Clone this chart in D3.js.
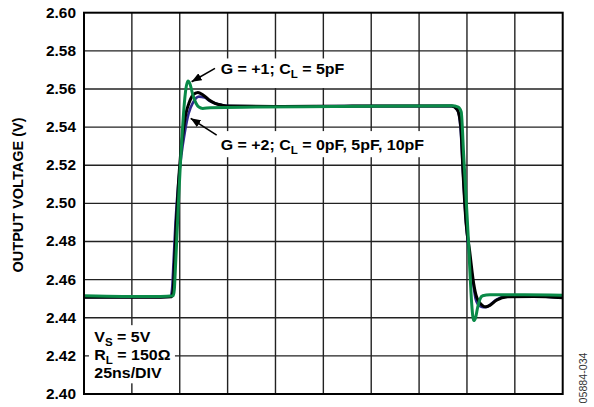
<!DOCTYPE html>
<html>
<head>
<meta charset="utf-8">
<script src="https://cdn.jsdelivr.net/npm/d3@7"></script>
<style>
  body { margin: 0; background: #fff; }
  svg text { font-family: "Liberation Sans", Arial, Helvetica, sans-serif; font-weight: bold; fill: #000; }
</style>
</head>
<body>
<div id="chart"></div>
<script>
// time axis: 25ns/div, 10 divisions
var timeTicks = [0, 25, 50, 75, 100, 125, 150, 175, 200, 225, 250];
var voltTicks = [2.40, 2.42, 2.44, 2.46, 2.48, 2.50, 2.52, 2.54, 2.56, 2.58, 2.60];

// G = +1; CL = 5pF (green)
var g1Time = [0, 20, 40, 46.6, 47.2, 47.7, 48.4, 49.3, 50.3, 51.2, 52.2, 53.2, 54.3, 55.4, 56.8, 58.5, 60, 62, 66, 90, 130, 170, 192, 195.5, 197, 198.3, 199.7, 200.8, 201.6, 202.5, 203.5, 204.5, 205.6, 206.8, 208.2, 212, 230, 250];
var g1Volt = [2.4515, 2.4512, 2.4512, 2.4515, 2.455, 2.465, 2.48, 2.50, 2.52, 2.535, 2.550, 2.560, 2.5642, 2.5625, 2.557, 2.5525, 2.5505, 2.5498, 2.5502, 2.5505, 2.5508, 2.551, 2.5512, 2.5505, 2.548, 2.525, 2.50, 2.48, 2.463, 2.447, 2.4385, 2.4400, 2.4455, 2.4498, 2.4515, 2.452, 2.452, 2.4518];

// G = +2; CL = 10pF (black)
var g2aTime = [0, 20, 40, 45.8, 46.6, 47.3, 48.2, 49.3, 50.4, 51.7, 53.2, 55, 57, 59.5, 62, 65, 68.4, 72, 76, 100, 140, 180, 192, 195, 196.8, 198, 199.5, 201.4, 203.5, 205, 206.2, 208, 209.8, 212, 215.4, 221.3, 235, 250];
var g2aVolt = [2.4508, 2.4508, 2.4508, 2.451, 2.455, 2.47, 2.49, 2.51, 2.525, 2.537, 2.547, 2.553, 2.557, 2.5582, 2.557, 2.5545, 2.5525, 2.5515, 2.551, 2.5508, 2.551, 2.551, 2.551, 2.549, 2.540, 2.515, 2.49, 2.475, 2.458, 2.451, 2.4485, 2.4465, 2.4457, 2.4465, 2.4492, 2.451, 2.4512, 2.4505];

// G = +2; CL = 0pF (blue)
var g2bTime = [0, 20, 40, 45.2, 46.0, 46.8, 47.8, 49.2, 50.8, 52.6, 54.6, 57, 60, 63, 66, 70, 76, 100, 140, 180, 192, 195, 196.6, 198, 199.5, 201, 203, 204.5, 205.6, 207.5, 209.5, 212, 215.4, 221, 235, 250];
var g2bVolt = [2.4508, 2.4508, 2.4508, 2.451, 2.455, 2.47, 2.49, 2.51, 2.525, 2.537, 2.547, 2.553, 2.556, 2.5555, 2.5535, 2.552, 2.551, 2.5508, 2.551, 2.551, 2.551, 2.549, 2.540, 2.515, 2.49, 2.475, 2.46, 2.45, 2.4472, 2.4458, 2.4455, 2.4467, 2.4495, 2.4512, 2.4512, 2.4505];

var width = 594, height = 407;
var margin = {top: 12.7, right: 31.3, bottom: 13, left: 84};
var stretch = 1.1;

var svg = d3.select("#chart").append("svg")
  .attr("width", width)
  .attr("height", height);

var x = d3.scaleLinear().domain([0, 250]).range([margin.left, width - margin.right]);
var y = d3.scaleLinear().domain([2.40, 2.60]).range([height - margin.bottom, margin.top]);

// grid
svg.append("g").selectAll("line.v")
  .data(timeTicks.slice(1, -1))
  .enter().append("line")
  .attr("x1", function(d) { return x(d); })
  .attr("x2", function(d) { return x(d); })
  .attr("y1", y(2.60)).attr("y2", y(2.40))
  .attr("stroke", "#222").attr("stroke-width", 1.4);

svg.append("g").selectAll("line.h")
  .data(voltTicks.slice(1, -1))
  .enter().append("line")
  .attr("x1", x(0)).attr("x2", x(250))
  .attr("y1", function(d) { return y(d); })
  .attr("y2", function(d) { return y(d); })
  .attr("stroke", "#222").attr("stroke-width", 1.4);

// y axis labels
var yAxis = d3.axisLeft(y).tickValues(voltTicks).tickSize(0).tickPadding(7.3).tickFormat(d3.format(".2f"));
var ya = svg.append("g").attr("transform", "translate(" + margin.left + ",0)").call(yAxis);
ya.select(".domain").remove();
ya.selectAll("text")
  .attr("transform", "scale(" + stretch + ",1)")
  .style("font-size", "14px")
  .style("font-family", '"Liberation Sans", Arial, sans-serif')
  .style("font-weight", "bold");

svg.append("text")
  .attr("transform", "translate(23.3,195) rotate(-90)")
  .attr("text-anchor", "middle")
  .style("font-size", "14.5px")
  .text("OUTPUT VOLTAGE (V)");

// white backing boxes behind the annotation texts
function whiteBox(t0, t1, v0, v1) {
  svg.append("rect")
    .attr("x", x(t0)).attr("width", x(t1) - x(t0))
    .attr("y", y(v1)).attr("height", y(v0) - y(v1))
    .attr("fill", "#fff");
}
whiteBox(69.5, 139, 2.5605, 2.5760);   // G = +1 text
whiteBox(69.5, 182, 2.5242, 2.5379);   // G = +2 text
whiteBox(2.6, 47.5, 2.4056, 2.4361);   // conditions

// traces
var line = d3.line()
  .x(function(d) { return x(d[0]); })
  .y(function(d) { return y(d[1]); })
  .curve(d3.curveMonotoneX);

var traces = [
  {t: g2bTime, v: g2bVolt, color: "#2e2a8c", w: 2.6},
  {t: g2aTime, v: g2aVolt, color: "#000000", w: 3},
  {t: g1Time, v: g1Volt, color: "#0a8a48", w: 3}
];
traces.forEach(function(s) {
  svg.append("path")
    .datum(d3.zip(s.t, s.v))
    .attr("fill", "none")
    .attr("stroke", s.color)
    .attr("stroke-width", s.w)
    .attr("stroke-linejoin", "round")
    .attr("d", line);
});

// frame
svg.append("rect")
  .attr("x", x(0)).attr("y", y(2.60))
  .attr("width", x(250) - x(0)).attr("height", y(2.40) - y(2.60))
  .attr("fill", "none").attr("stroke", "#000").attr("stroke-width", 2);

// arrows
svg.append("defs").append("marker")
  .attr("id", "head")
  .attr("viewBox", "0 0 10 8")
  .attr("refX", 10).attr("refY", 4)
  .attr("markerWidth", 10).attr("markerHeight", 8)
  .attr("markerUnits", "userSpaceOnUse")
  .attr("orient", "auto")
  .append("path").attr("d", "M0,0 L10,4 L0,8 Z").attr("fill", "#000");

var arrows = [
  {from: [68.4, 2.5708], to: [56.2, 2.5638]},
  {from: [69.3, 2.5358], to: [55.7, 2.5446]}
];
arrows.forEach(function(a) {
  svg.append("line")
    .attr("x1", x(a.from[0])).attr("y1", y(a.from[1]))
    .attr("x2", x(a.to[0])).attr("y2", y(a.to[1]))
    .attr("stroke", "#000").attr("stroke-width", 1.6)
    .attr("marker-end", "url(#head)");
});

// labels with subscripts
function label(px, py, parts) {
  var t = svg.append("text")
    .attr("transform", "translate(" + px + "," + py + ") scale(" + stretch + ",1)")
    .style("font-size", "14.5px");
  parts.forEach(function(p) {
    if (p.sub) {
      t.append("tspan").attr("dy", 4).style("font-size", "10.5px").text(p.sub);
    } else {
      t.append("tspan").attr("dy", p.after ? -4 : 0).text(p.txt);
    }
  });
}
label(x(71.4), y(2.5678), [{txt: "G = +1; C"}, {sub: "L"}, {txt: " = 5pF", after: true}]);
label(x(71.4), y(2.5279), [{txt: "G = +2; C"}, {sub: "L"}, {txt: " = 0pF, 5pF, 10pF", after: true}]);
label(x(5.4), y(2.4273), [{txt: "V"}, {sub: "S"}, {txt: " = 5V", after: true}]);
label(x(5.4), y(2.4177), [{txt: "R"}, {sub: "L"}, {txt: " = 150Ω", after: true}]);
label(x(5.4), y(2.4084), [{txt: "25ns/DIV"}]);

// figure id
svg.append("text")
  .attr("transform", "translate(587,378) rotate(-90)")
  .attr("text-anchor", "middle")
  .attr("textLength", 51)
  .attr("lengthAdjust", "spacingAndGlyphs")
  .style("font-size", "10px")
  .style("font-weight", "normal")
  .style("font-family", '"Liberation Sans Narrow", "Liberation Sans", Arial, sans-serif')
  .style("fill", "#333")
  .text("05884-034");
</script>
</body>
</html>
